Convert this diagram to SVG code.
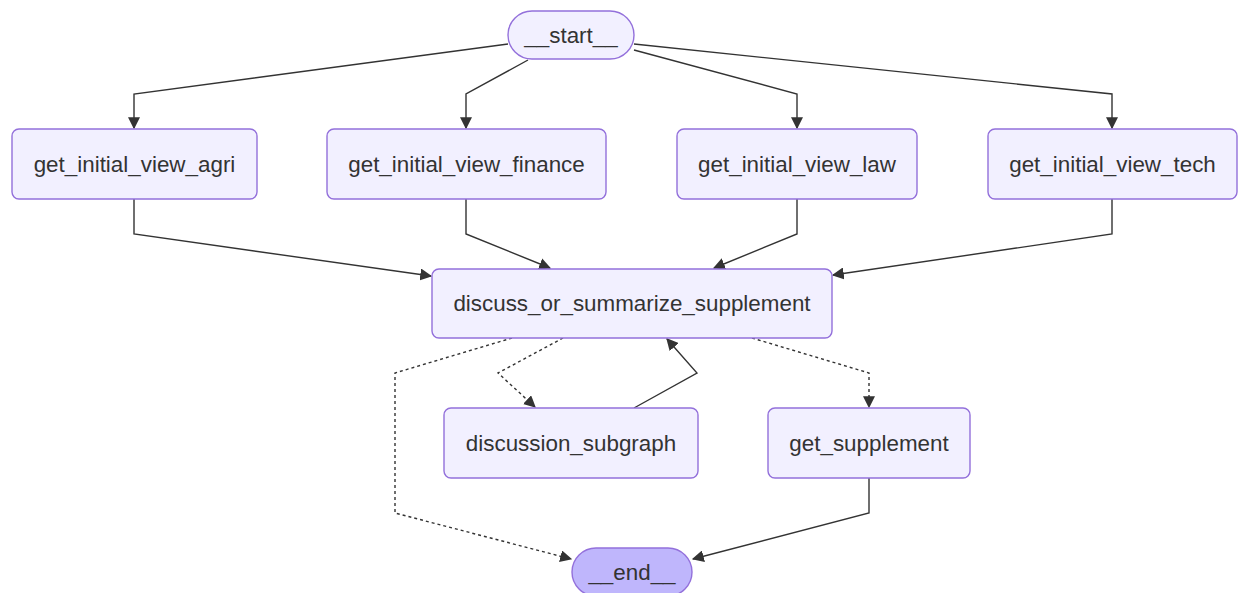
<svg xmlns="http://www.w3.org/2000/svg" width="1238" height="593" viewBox="0 0 1238 593">
<style>
.node rect{fill:#f2f0ff;stroke:#9370db;stroke-width:1.4}
.node.term rect{fill:#bfb6fc}
.node.first rect{fill:#f2f0ff}
text{font-family:"Liberation Sans",Arial,sans-serif;font-size:22.4px;fill:#333;text-anchor:middle;dominant-baseline:central}
.edge{fill:none;stroke:#333;stroke-width:1.4}
.dot{stroke-dasharray:3 3}
</style>
<defs>
<marker id="arr" viewBox="0 0 10 10" refX="9" refY="5" markerWidth="12" markerHeight="12" markerUnits="userSpaceOnUse" orient="auto">
<path d="M0,0 L10,5 L0,10 z" fill="#333"/>
</marker>
</defs>
<rect width="1238" height="593" fill="#fff"/>
<g id="edges">
<polyline class="edge" points="508,44 134,94 134,128" marker-end="url(#arr)"/>
<polyline class="edge" points="528,60 466,94 466,128" marker-end="url(#arr)"/>
<polyline class="edge" points="634,50 797,94 797,128" marker-end="url(#arr)"/>
<polyline class="edge" points="634,44 1112,94 1112,128" marker-end="url(#arr)"/>
<polyline class="edge" points="134,199 134,234 431,276" marker-end="url(#arr)"/>
<polyline class="edge" points="466,199 466,234 550,268" marker-end="url(#arr)"/>
<polyline class="edge" points="797,199 797,234 714,268" marker-end="url(#arr)"/>
<polyline class="edge" points="1112,199 1112,234 833,275" marker-end="url(#arr)"/>
<polyline class="edge dot" points="512,338 395,373 395,513 571,559" marker-end="url(#arr)"/>
<polyline class="edge dot" points="563,338 498,373 535,407" marker-end="url(#arr)"/>
<polyline class="edge" points="634,408 697,373 667,339" marker-end="url(#arr)"/>
<polyline class="edge dot" points="752,338 869,373 869,407" marker-end="url(#arr)"/>
<polyline class="edge" points="869,478 869,513 693,559" marker-end="url(#arr)"/>
</g>
<g id="start" class="node first"><rect x="508" y="11" width="126" height="48" rx="24"/><text x="571" y="35">__start__</text></g>
<g id="get_initial_view_agri" class="node"><rect x="12" y="129" width="245" height="70" rx="7"/><text x="134.5" y="164">get_initial_view_agri</text></g>
<g id="get_initial_view_finance" class="node"><rect x="327" y="129" width="279" height="70" rx="7"/><text x="466.5" y="164">get_initial_view_finance</text></g>
<g id="get_initial_view_law" class="node"><rect x="677" y="129" width="240" height="70" rx="7"/><text x="797" y="164">get_initial_view_law</text></g>
<g id="get_initial_view_tech" class="node"><rect x="988" y="129" width="249" height="70" rx="7"/><text x="1112.5" y="164">get_initial_view_tech</text></g>
<g id="discuss_or_summarize_supplement" class="node"><rect x="432" y="269" width="400" height="69" rx="7"/><text x="632" y="303.5">discuss_or_summarize_supplement</text></g>
<g id="discussion_subgraph" class="node"><rect x="444" y="408" width="254" height="70" rx="7"/><text x="571" y="443">discussion_subgraph</text></g>
<g id="get_supplement" class="node"><rect x="768" y="408" width="202" height="70" rx="7"/><text x="869" y="443">get_supplement</text></g>
<g id="end" class="node term"><rect x="572" y="548" width="120" height="48" rx="24"/><text x="632" y="572">__end__</text></g>
</svg>
